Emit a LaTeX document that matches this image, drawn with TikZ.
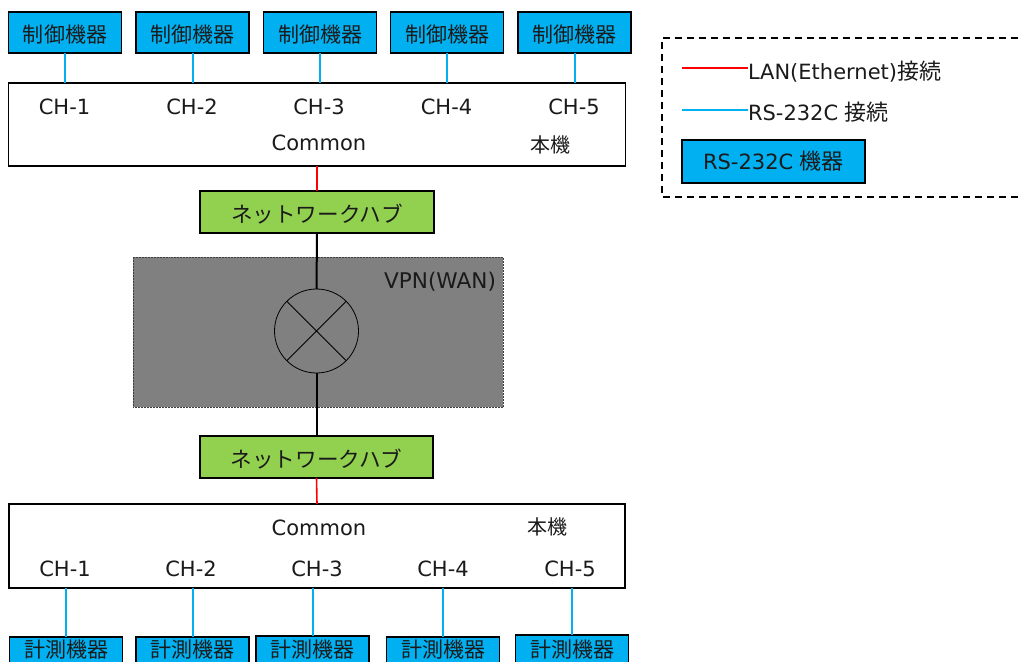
\documentclass[tikz,border=0pt]{standalone}
\usepackage{fontspec}
\setmainfont{DejaVu Sans}
\newfontfamily\cjk{Noto Sans CJK JP}
\definecolor{devblue}{HTML}{00B0F0}
\definecolor{hubgreen}{HTML}{92D050}
\definecolor{linkblue}{HTML}{00B0F0}
\definecolor{inkc}{HTML}{1A1A1A}
\newcommand{\lat}{\fontsize{21}{25}\selectfont}
\newcommand{\jp}{\fontsize{21}{25}\selectfont\cjk}
\newcommand{\jpb}{\fontsize{21.6}{26}\selectfont\cjk}
\newcommand{\dropby}[2]{\raisebox{-#1}[\height][\depth]{#2}}
\tikzset{
  x=1pt,y=-1pt,
  every node/.style={inner sep=0pt,outer sep=0pt,text=inkc},
  devbox/.style={draw=black,line width=1.6pt,fill=devblue,minimum width=113pt,font=\jp},
  unitbox/.style={draw=black,line width=1.4pt,fill=white,minimum width=617pt,minimum height=83pt},
  hubbox/.style={draw=black,line width=1.2pt,fill=hubgreen,minimum width=234pt,minimum height=42pt,font=\jpb},
  lab/.style={font=\lat},
  lan/.style={draw=red,line width=1.6pt},
  serial/.style={draw=linkblue,line width=2pt},
  trunk/.style={draw=black,line width=2pt},
}
\begin{document}
\begin{tikzpicture}
\useasboundingbox (0,0) rectangle (1019,661);
\clip (0,0) rectangle (1019,661);
% VPN
\node[draw=black!75,densely dotted,line width=.5pt,fill=black!50!white,minimum width=370pt,minimum height=150pt] (vpn) at (318,332) {};
\node[font=\fontsize{21.6}{26}\selectfont,anchor=east] (vpnlab) at (496,282) {VPN(WAN)};
% upper unit
\node[unitbox] (up) at (317,124.5) {};
\foreach \n/\x/\lx in {1/65/64.5,2/192.5/192,3/320/319,4/447/446.5,5/574.5/574}{
  \node[devbox,minimum height=41pt] (c\n) at (\x,32.5) {\dropby{2.5pt}{制御機器}};
  \draw[serial] (c\n.south) -- (c\n.south |- up.north);
  \node[lab] (uch\n) at (\lx,107) {CH-\n};
}
\node[lab] (ucom) at (319,143) {Common};
\node[font=\fontsize{20}{24}\selectfont\cjk] (uhon) at (550,145) {本機};
% hubs and WAN
\node[hubbox] (hub1) at (317,212) {\dropby{2pt}{ネットワークハブ}};
\node[hubbox,minimum width=233pt] (hub2) at (316.5,457) {\dropby{2pt}{ネットワークハブ}};
\node[draw=black,circle,line width=.8pt,minimum size=84pt] (wan) at (316.5,331) {};
\draw[black,line width=.8pt] (wan.45) -- (wan.225) (wan.135) -- (wan.315);
\draw[trunk] (hub1.south) -- (wan.north);
\draw[trunk] (wan.south) -- (hub2.north);
% lower unit
\node[unitbox,minimum width=616pt,minimum height=84pt] (low) at (317,546) {};
\draw[lan] (up.south) -- (hub1.north);
\draw[lan] (hub2.south) -- (low.north);
\foreach \n/\x/\lx/\ty in {1/66/65/637,2/192.5/191/637,3/312.5/317/636,4/443/443/637,5/572/570/635}{
  \pgfmathsetmacro{\hh}{2*(650-\ty)}
  \node[devbox,minimum height=\hh pt] (m\n) at (\x,650) {計測機器};
  \draw[serial] (m\n.north) -- (m\n.north |- low.south);
  \node[lab] (lch\n) at (\lx,568.5) {CH-\n};
}
\node[lab] (lcom) at (319,528) {Common};
\node[font=\fontsize{20}{24}\selectfont\cjk] (lhon) at (547,527) {本機};
% legend
\draw[black,line width=1.4pt,dash pattern=on 7pt off 5pt] (1030,38) -- (662,38) -- (662,197) -- (1030,197);
\coordinate (lg1) at (682,68);
\coordinate (lg2) at (682,110);
\node[lab,anchor=west] (lt1) at (748,71.5) {LAN(Ethernet){\fontsize{22}{26}\selectfont\cjk 接続}};
\node[lab,anchor=west] (lt2) at (748,112.5) {RS-232C {\fontsize{22}{26}\selectfont\cjk 接続}};
\draw[lan] (lg1) -- (lg1 -| lt1.west);
\draw[serial] (lg2) -- (lg2 -| lt2.west);
\node[devbox,minimum width=183pt,minimum height=43pt,font=\lat] (lbox) at (773.5,161.5) {RS-232C {\fontsize{22}{26}\selectfont\cjk 機器}};
\end{tikzpicture}
\end{document}
